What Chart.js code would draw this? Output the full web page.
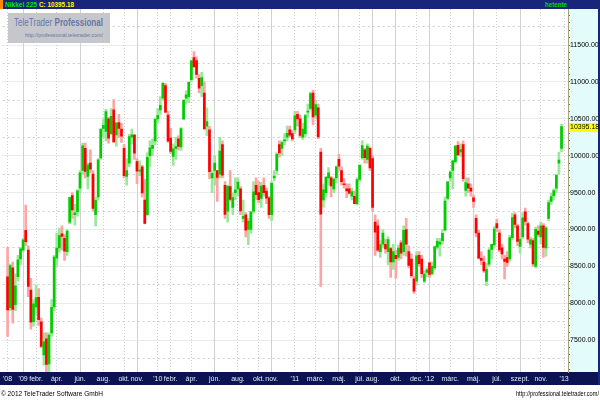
<!DOCTYPE html>
<html>
<head>
<meta charset="utf-8">
<script src="https://cdn.jsdelivr.net/npm/chart.js@4.4.1/dist/chart.umd.min.js"></script>
<style>
html,body{margin:0;padding:0;background:#fff;}
#wrap{position:relative;width:600px;height:400px;overflow:hidden;font-family:"Liberation Sans",Arial,sans-serif;}
#c{position:absolute;left:0;top:0;width:600px;height:400px;}
#top{position:absolute;left:0;top:0;width:600px;height:9px;background:#17257a;}
#mk{position:absolute;left:0;top:0;width:3px;height:9px;background:#ff8c00;}
.fit{position:absolute;white-space:nowrap;transform-origin:0 0;}
#nm{left:5px;top:0;font:bold 7px/9px "Liberation Sans",Arial,sans-serif;color:#00e600;}
#cl{left:39px;top:0;font:bold 7px/9px "Liberation Sans",Arial,sans-serif;color:#ffff00;}
#per{left:545px;top:0;font:bold 7px/9px "Liberation Sans",Arial,sans-serif;color:#00d800;}
#wm{position:absolute;left:8px;top:13px;width:102px;height:30px;background:#c5c7cd;}
#t1{left:6px;top:3px;font:10.5px/13px "Liberation Sans",Arial,sans-serif;color:#6777a6;}
#t2{left:17px;top:18px;font:6px/8px "Liberation Sans",Arial,sans-serif;color:#6777a6;}
#f1{left:1px;top:389px;font:7.5px/10px "Liberation Sans",Arial,sans-serif;color:#000;}
#f2{left:516px;top:389px;font:7.5px/10px "Liberation Sans",Arial,sans-serif;color:#000;}
</style>
</head>
<body>
<div id="wrap">
  <canvas id="c" width="600" height="400"></canvas>
  <div id="top">
    <div id="mk"></div>
    <div class="fit" id="nm" data-w="32">Nikkei 225</div>
    <div class="fit" id="cl" data-w="35">C: 10395.18</div>
    <div class="fit" id="per" data-w="22">hetente</div>
  </div>
  <div id="wm">
    <div class="fit" id="t1" data-w="89">TeleTrader <b>Professional</b></div>
    <div class="fit" id="t2" data-w="78">http://professional.teletrader.com/</div>
  </div>
  <div class="fit" id="f1" data-w="102">© 2012 TeleTrader Software GmbH</div>
  <div class="fit" id="f2" data-w="83">http://professional.teletrader.com/</div>
</div>
<script>
// Weekly Nikkei 225 candles, first week ending 2008-11-21
const firstWeekEnd = [2008, 10, 21];

const opens = [
  8360,7940,8480,7980,8360,8600,8720,8990,8720,8180,
  7750,7950,8080,7750,7300,7520,7180,7600,7950,8610,
  8750,8940,8880,8700,9100,9460,9200,9240,9560,9800,
  10100,9720,9900,9750,9200,9440,9970,10370,10330,10500,
  10300,10620,10280,10450,10360,10100,9720,9900,10250,10280,
  9920,9790,9850,9400,9200,10000,10100,10200,10500,10620,
  10780,10950,10550,10240,9990,10100,10230,10120,10500,10780,
  10800,11030,11330,11290,11050,10950,10850,10400,10350,9700,
  9800,9800,9750,10150,9600,9250,9580,9300,9500,9550,
  9550,9150,9200,9000,9000,9250,9600,9500,9420,9600,
  9520,9430,9200,9700,9800,10150,10100,10200,10250,10350,
  10300,10350,10560,10500,10250,10300,10590,10640,10850,10550,
  10650,10050,9400,9500,9700,9700,9550,9700,9950,9800,
  9620,9550,9550,9450,9450,9350,9680,9970,10080,9950,
  10100,9960,9100,9050,8700,8800,8800,8700,8740,8560,
  8650,8620,8820,8700,9000,8700,8600,8330,8300,8650,
  8600,8300,8420,8550,8400,8480,8760,8800,8850,8990,
  9420,9700,9800,9920,10140,10050,10150,9530,9620,9560,
  9430,9150,8950,8610,8560,8300,8530,8730,8790,9080,
  8950,8750,8600,8620,8600,8890,9200,9050,8770,8900,
  9240,9080,8800,8850,8500,8980,8900,9050,8750,9150,
  9380,9460,9560,9900,10100
];
const highs = [
  8760,8530,8560,8400,8650,8760,8880,9330,8780,8340,
  8050,8250,8200,7800,7600,7600,7600,8050,8650,8950,
  9020,9050,8930,9000,9440,9500,9340,9540,9800,10170,
  10170,9900,10080,9800,9440,9960,10370,10500,10630,10520,
  10640,10760,10450,10560,10440,10150,9960,10290,10360,10290,
  9960,9930,9870,9680,10040,10200,10230,10510,10640,10800,
  10990,10980,10600,10370,10160,10250,10270,10380,10760,10880,
  11000,11300,11410,11340,11100,11130,11000,10650,10400,9800,
  10000,9800,10250,10200,9650,9600,9800,9500,9700,9700,
  9580,9400,9230,9150,9240,9650,9700,9650,9640,9700,
  9560,9450,9650,9800,10040,10200,10200,10300,10400,10400,
  10340,10600,10600,10550,10440,10560,10700,10860,10890,10750,
  10700,10100,9620,9720,9840,9720,9700,9860,10020,9850,
  9690,9620,9620,9560,9520,9700,9880,10200,10100,10160,
  10120,10000,9200,9130,8850,9000,8870,8900,8760,8800,
  8720,8790,8850,9050,9150,8780,8670,8370,8700,8700,
  8650,8440,8480,8560,8560,8780,8880,8880,9000,9440,
  9650,9800,9940,10140,10190,10160,10200,9700,9700,9620,
  9470,9200,8990,8700,8640,8540,8740,8800,9040,9140,
  9000,8800,8650,8700,8920,9220,9230,9070,8900,9230,
  9290,9100,8900,8880,9030,9050,9100,9080,9040,9400,
  9490,9550,9740,10050,10430
];
const lows = [
  7550,7900,7730,7900,8300,8520,8700,8780,8090,7650,
  7690,7850,7700,7400,7160,7050,7040,7550,7900,8500,
  8690,8720,8580,8650,9080,9150,9060,9180,9500,9750,
  9700,9550,9770,9250,9050,9400,9950,10250,10200,10170,
  10280,10180,10130,10250,10180,9700,9600,9850,10160,9950,
  9620,9730,9440,9076,9190,9850,10000,10150,10450,10560,
  10750,10580,10180,10030,9870,9950,10080,10070,10490,10700,
  10720,11000,11200,11050,10850,10800,10360,10270,9690,9500,
  9600,9380,9700,9700,9150,9100,9380,9200,9400,9450,
  9200,9100,8900,8796,8950,9220,9400,9360,9300,9450,
  9350,9150,9120,9660,9750,9980,10000,10150,10200,10250,
  10200,10300,10400,10250,10220,10250,10520,10620,10420,10500,
  10230,8227,9300,9440,9600,9440,9500,9630,9800,9600,
  9560,9430,9480,9400,9350,9330,9650,9950,9900,9900,
  9800,9250,8650,8700,8620,8760,8680,8520,8350,8460,
  8340,8580,8600,8650,8640,8480,8350,8135,8250,8500,
  8350,8280,8360,8350,8380,8460,8730,8640,8800,8980,
  9400,9650,9550,9900,10000,9990,9650,9450,9500,9450,
  9300,8900,8600,8520,8420,8240,8500,8600,8750,8970,
  8700,8600,8330,8500,8570,8860,9020,8780,8680,8880,
  9060,8820,8750,8500,8480,8900,8800,8620,8640,9120,
  9340,9400,9500,9750,10050
];
const closes = [
  7910,8512,7918,8235,8588,8739,8860,8836,8230,7745,
  7994,8076,7779,7416,7480,7173,7570,7945,8626,8749,
  8916,8907,8707,8977,9432,9265,9225,9523,9768,10135,
  9786,9877,9816,9287,9395,9944,10357,10412,10597,10238,
  10534,10187,10444,10370,10265,9731,9800,10258,10282,10034,
  9789,9804,9497,9081,9977,10107,10142,10494,10546,10681,
  10982,10590,10198,10057,10092,10123,10126,10368,10751,10824,
  10996,11286,11204,11102,10914,11057,10364,10462,9784,9762,
  9901,9705,10064,9737,9203,9585,9408,9431,9537,9642,
  9253,9179,8991,9114,9239,9509,9471,9404,9588,9500,
  9426,9202,9625,9724,10022,10039,10178,10212,10303,10279,
  10229,10541,10499,10274,10360,10543,10605,10842,10527,10693,
  10254,9207,9536,9708,9768,9592,9682,9850,9859,9648,
  9607,9522,9492,9514,9351,9678,9868,10137,9974,10132,
  9833,9299,8963,8719,8797,8950,8737,8864,8560,8700,
  8605,8747,8678,8988,8801,8514,8374,8165,8643,8536,
  8401,8395,8455,8390,8500,8766,8841,8831,8947,9384,
  9647,9777,9929,10129,10011,10083,9688,9637,9561,9520,
  9380,8953,8611,8580,8440,8459,8721,8798,9006,9020,
  8724,8670,8566,8555,8891,9162,9070,8839,8871,9159,
  9110,8870,8863,8534,9002,8933,9051,8757,9024,9366,
  9446,9527,9737,9940,10395.18
];

// x-axis month labels (Hungarian), placed at the first week of each month
const tickMonths = ['2008-11','2009-01','2009-02','2009-04','2009-06','2009-08','2009-10','2009-11',
  '2010-01','2010-02','2010-04','2010-06','2010-08','2010-10','2010-11',
  '2011-01','2011-03','2011-05','2011-07','2011-08','2011-10','2011-12',
  '2012-01','2012-03','2012-05','2012-07','2012-09','2012-11','2013-01'];
const tickLabels = ["'08","'09",'febr.','ápr.','jún.','aug.','okt.','nov.',
  "'10",'febr.','ápr.','jún.','aug.','okt.','nov.',
  "'11",'márc.','máj.','júl.','aug.','okt.','dec.',
  "'12",'márc.','máj.','júl.','szept.','nov.',"'13"];
const solidMonths = ['2009-01','2009-06','2009-11','2010-06','2010-11','2011-05','2011-08','2011-10','2012-01','2012-05','2012-09'];

// y-axis labels
const yLabels = [7500,8000,8500,9000,9500,10000,10500,11000,11500];
const yMinor = [7250,7750,8250,8750,9250,9750,10250,10750,11250,11750];
const lastClose = 10395.18;

// week-ending dates (categories)
const weeks = opens.map((_, i) => {
  const d = new Date(Date.UTC(firstWeekEnd[0], firstWeekEnd[1], firstWeekEnd[2] + 7 * i));
  return d.toISOString().slice(0, 10);
});
function monthIndex(m) {
  const i = weeks.findIndex(w => w.startsWith(m));
  return i < 0 ? weeks.length : i;
}
const tickIdx = tickMonths.map(monthIndex);
const solidIdx = solidMonths.map(monthIndex);
const yTicks100 = [];
for (let v = 7100; v <= 11900; v += 100) yTicks100.push(v);

const up = opens.map((o, i) => closes[i] >= o);
const bodyData = weeks.map((w, i) => ({x: i, y: [opens[i], closes[i]]}));
const wickData = weeks.map((w, i) => ({x: i, y: [lows[i], highs[i]]}));

const FONT = '"Liberation Sans", Arial, sans-serif';

const bgPlugin = {
  id: 'bg',
  beforeDraw(chart) {
    const {ctx, chartArea: ca, width} = chart;
    const xb = chart.scales.x.bottom;
    ctx.save();
    ctx.fillStyle = '#ffffff';
    ctx.fillRect(0, 0, width, chart.height);
    ctx.fillStyle = '#e3fbfb';
    ctx.fillRect(ca.right, ca.top, width - 2 - ca.right, ca.bottom - ca.top);
    ctx.fillStyle = '#0b1352';
    ctx.fillRect(0, ca.bottom, width, xb - ca.bottom);
    ctx.fillStyle = '#17257a';
    ctx.fillRect(width - 2, 0, 2, xb);
    ctx.restore();
  },
  afterDraw(chart) {
    const {ctx, chartArea: ca} = chart;
    const y = Math.round(chart.scales.y.getPixelForValue(lastClose));
    ctx.save();
    ctx.fillStyle = '#ffff00';
    ctx.fillRect(ca.right + 1, y - 4, 29, 9);
    ctx.fillStyle = '#000000';
    ctx.font = '7px ' + FONT;
    ctx.textBaseline = 'middle';
    ctx.fillText(lastClose.toFixed(2), ca.right + 2, y + 0.5);
    ctx.restore();
  }
};

const xMin = -1.9, xMax = 216.5, yMin = 7069, yMax = 11988;

new Chart(document.getElementById('c'), {
  type: 'bar',
  data: {
    datasets: [
      {
        label: 'body',
        data: bodyData,
        backgroundColor: up.map(u => u ? '#00cc00' : '#ff0000'),
        barThickness: 2,
        minBarLength: 1,
        borderWidth: 0,
        borderSkipped: false,
        grouped: false,
        order: 0
      },
      {
        label: 'wick',
        data: wickData,
        backgroundColor: up.map(u => u ? '#9ae89a' : '#ffa4a4'),
        barThickness: 2,
        borderWidth: 0,
        borderSkipped: false,
        grouped: false,
        order: 1
      }
    ]
  },
  options: {
    responsive: false,
    animation: false,
    events: [],
    layout: {padding: {left: 0, top: 9, right: 2, bottom: 15}},
    plugins: {legend: {display: false}, tooltip: {enabled: false}},
    scales: {
      xs: {
        type: 'linear', position: 'bottom', min: xMin, max: xMax, offset: false, weight: 0,
        afterBuildTicks: s => { s.ticks = solidIdx.map(v => ({value: v})); },
        afterFit: s => { s.height = 0; },
        ticks: {display: false},
        grid: {color: '#d2d2d2', lineWidth: 1, drawTicks: false, offset: false},
        border: {display: false}
      },
      x: {
        type: 'linear', position: 'bottom', min: xMin, max: xMax, offset: false, weight: 1,
        afterBuildTicks: s => { s.ticks = tickIdx.map(v => ({value: v})); },
        afterFit: s => { s.height = 13; },
        ticks: {
          autoSkip: false, maxRotation: 0, minRotation: 0, padding: 3,
          color: '#e6eaf4', font: {family: FONT, size: 7},
          callback: (v, i) => tickLabels[i]
        },
        grid: {color: '#cdcdcd', lineWidth: 1, drawTicks: false, offset: false},
        border: {display: false, dash: [1, 2]}
      },
      y2: {
        type: 'linear', position: 'right', min: yMin, max: yMax, weight: 0,
        afterBuildTicks: s => { s.ticks = yMinor.map(v => ({value: v})); },
        afterFit: s => { s.width = 0; },
        ticks: {display: false},
        grid: {color: '#cdcdcd', drawTicks: false},
        border: {display: false, dash: [2, 3]}
      },
      y3: {
        type: 'linear', position: 'right', min: yMin, max: yMax, weight: 0,
        afterBuildTicks: s => { s.ticks = yTicks100.map(v => ({value: v})); },
        afterFit: s => { s.width = 0; },
        ticks: {display: false},
        grid: {drawOnChartArea: false, drawTicks: true, tickLength: 2, tickColor: '#707070'},
        border: {display: false}
      },
      y: {
        type: 'linear', position: 'right', min: yMin, max: yMax, weight: 1,
        afterBuildTicks: s => { s.ticks = yLabels.map(v => ({value: v})); },
        afterFit: s => { s.width = 30; },
        ticks: {
          padding: 2, color: '#000000', font: {family: FONT, size: 7},
          callback: v => Number(v).toFixed(2)
        },
        grid: {color: '#d6d6d6', drawTicks: false},
        border: {display: true, color: '#a8a27a', width: 1, dash: [1, 1]}
      }
    }
  },
  plugins: [bgPlugin]
});

// fit text widths to the reference
document.querySelectorAll('.fit').forEach(el => {
  const target = parseFloat(el.dataset.w);
  const w = el.getBoundingClientRect().width;
  if (w > 0) el.style.transform = 'scaleX(' + (target / w).toFixed(3) + ')';
});
</script>
</body>
</html>
